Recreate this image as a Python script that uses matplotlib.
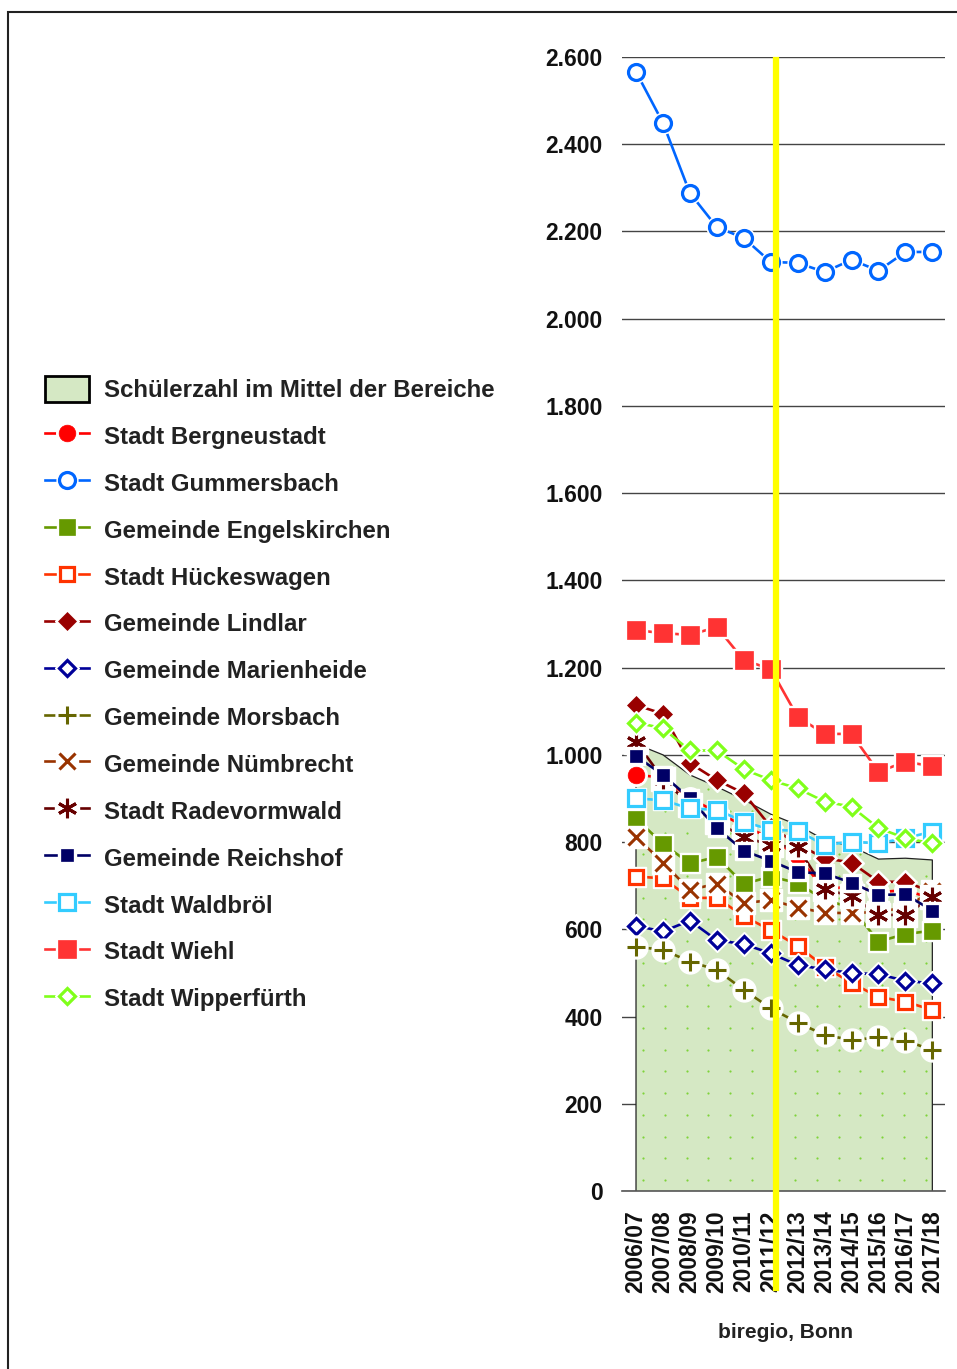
import numpy as np
import matplotlib
matplotlib.use("Agg")
import matplotlib.pyplot as plt
from matplotlib.patches import Patch, Rectangle, Polygon
from matplotlib.ticker import FuncFormatter, MultipleLocator
import matplotlib.transforms as mtransforms

plt.rcParams['font.family'] = ['Liberation Sans', 'DejaVu Sans']
plt.rcParams['font.weight'] = 'bold'

# school years
years = ['2006/07', '2007/08', '2008/09', '2009/10', '2010/11', '2011/12',
         '2012/13', '2013/14', '2014/15', '2015/16', '2016/17', '2017/18']

# pupils, mean of all areas (green area)
mittel = [1025, 1000, 954, 927, 897, 864, 839, 805, 790, 761, 763, 759]

# pupils per town
bergneustadt = [954, 948, 900, 869, 837, 809, 768, 690, 700, 685, 690, 670]
gummersbach = [2566, 2449, 2288, 2210, 2185, 2130, 2128, 2107, 2135, 2110, 2153, 2153]
engelskirchen = [854, 796, 751, 766, 704, 721, 706, 667, 650, 572, 589, 597]
hueckeswagen = [721, 717, 672, 672, 630, 598, 562, 514, 477, 445, 434, 415]
lindlar = [1114, 1094, 981, 942, 912, 835, 795, 763, 753, 709, 709, 685]
marienheide = [608, 595, 620, 575, 566, 545, 518, 508, 500, 497, 482, 476]
morsbach = [560, 553, 526, 507, 461, 419, 386, 358, 346, 352, 345, 323]
nuembrecht = [812, 753, 690, 705, 660, 667, 650, 638, 637, 640, 650, 688]
radevormwald = [1030, 945, 885, 845, 812, 793, 788, 692, 676, 633, 633, 675]
reichshof = [997, 954, 900, 832, 780, 757, 731, 728, 707, 679, 680, 643]
waldbroel = [900, 896, 877, 874, 847, 828, 826, 793, 801, 797, 809, 824]
wiehl = [1286, 1279, 1275, 1293, 1217, 1197, 1087, 1048, 1048, 961, 984, 974]
wipperfuerth = [1074, 1061, 1010, 1010, 967, 942, 923, 893, 881, 832, 809, 797]

# name, values, color, marker, size, filled, halo marker
series = [
    ('Stadt Bergneustadt', bergneustadt, '#ff0000', 'o', 12, True, 'o'),
    ('Stadt Gummersbach', gummersbach, '#0066ff', 'o', 11.5, False, 'o'),
    ('Gemeinde Engelskirchen', engelskirchen, '#669900', 's', 11, True, 's'),
    ('Stadt Hückeswagen', hueckeswagen, '#ff3300', 's', 10.5, False, 's'),
    ('Gemeinde Lindlar', lindlar, '#990000', 'D', 9, True, 'D'),
    ('Gemeinde Marienheide', marienheide, '#000099', 'D', 8.5, False, 'D'),
    ('Gemeinde Morsbach', morsbach, '#666600', '+', 13, False, 'o'),
    ('Gemeinde Nümbrecht', nuembrecht, '#993300', 'x', 12, False, 's'),
    ('Stadt Radevormwald', radevormwald, '#660000', (6, 2, 0), 14, False, 's'),
    ('Gemeinde Reichshof', reichshof, '#000066', 's', 9, True, 's'),
    ('Stadt Waldbröl', waldbroel, '#33ccff', 's', 11, False, 's'),
    ('Stadt Wiehl', wiehl, '#ff3333', 's', 12.5, True, 's'),
    ('Stadt Wipperfürth', wipperfuerth, '#80ff1a', 'D', 8.5, False, 'D'),
]

fig = plt.figure(figsize=(9.57, 13.69), dpi=100)
ax = fig.add_axes([622 / 957, 1 - 1191 / 1369, (945 - 622) / 957, (1191 - 57) / 1369])

x = np.arange(len(years))

# mean area with dotted texture
ax.fill_between(x, 0, mittel, facecolor='#d5e8c4', linewidth=0, zorder=1)
area = Polygon(np.column_stack([np.r_[x[0], x, x[-1]], np.r_[0, mittel, 0]]),
               closed=True, transform=ax.transData)
gx, gy = np.meshgrid(np.arange(0.27, 11.5, 0.806), np.arange(25, 1100, 49.8))
dots = ax.scatter(gx.ravel(), gy.ravel(), s=2.5, color='#7fd33a', linewidths=0, zorder=1.2)
dots.set_clip_path(area)
ax.plot(np.r_[x[0], x, x[-1]], np.r_[0, mittel, 0], color='#222222', lw=0.9, zorder=1.5)

handles = [Patch(facecolor='#d5e8c4', edgecolor='black', linewidth=2)]
labels = ['Schülerzahl im Mittel der Bereiche']

z = 2
for name, vals, col, mk, ms, filled, hmk in series:
    ln, = ax.plot(x, vals, color=col, lw=1.9, zorder=z)
    halo, = ax.plot(x, vals, ls='none', marker=hmk, ms=ms + 3.5, color='white',
                    mec='white', zorder=z + 0.1)
    if filled:
        m, = ax.plot(x, vals, ls='none', marker=mk, ms=ms, mfc=col, mec=col, mew=0.5, zorder=z + 0.2)
    elif mk in ('+', 'x') or isinstance(mk, tuple):
        m, = ax.plot(x, vals, ls='none', marker=mk, ms=ms, mec=col, mew=2.2, zorder=z + 0.2)
    else:
        m, = ax.plot(x, vals, ls='none', marker=mk, ms=ms, mfc='white', mec=col, mew=2.3, zorder=z + 0.2)
    handles.append((ln, halo, m))
    labels.append(name)
    z += 1

# yellow marker line
trans = mtransforms.blended_transform_factory(ax.transData, ax.transAxes)
ax.plot([5.2, 5.2], [0.9974, -0.0855], color='#ffff00', lw=4.5, transform=trans,
        clip_on=False, zorder=50)

ax.set_xlim(-0.52, 11.47)
ax.set_ylim(0, 2600)
ax.yaxis.set_major_locator(MultipleLocator(200))
ax.yaxis.set_major_formatter(FuncFormatter(lambda v, p: f'{int(v):,}'.replace(',', '.')))
ax.grid(axis='y', color='#444444', lw=1.0, zorder=0)
ax.set_axisbelow(True)
ax.set_xticks(x)
ax.set_xticklabels(years, rotation=90)
ax.tick_params(axis='both', length=0, labelsize=16.5, colors='#111111')
ax.tick_params(axis='y', pad=14)
ax.tick_params(axis='x', pad=14)
for s in ('top', 'right', 'left'):
    ax.spines[s].set_visible(False)
ax.spines['bottom'].set_color('#555555')
ax.spines['bottom'].set_linewidth(1.2)

fig.text(785 / 957, 1 - 1332 / 1369, 'biregio, Bonn', ha='center', va='center',
         fontsize=15, color='#222222')

fig.legend(handles, labels, loc='upper left', bbox_to_anchor=(45 / 957, 1 - 376 / 1369),
           frameon=False, fontsize=17.3, handlelength=1.85, handleheight=1.3,
           handletextpad=0.6, labelspacing=0.86, borderpad=0, borderaxespad=0,
           labelcolor='#222222', numpoints=1)

# outer frame
fig.add_artist(Rectangle((8 / 957, -0.1), 1.2, 1.1 - 12 / 1369, transform=fig.transFigure,
                         fill=False, edgecolor='#222222', lw=1.5))

fig.savefig('out.png', dpi=100)
